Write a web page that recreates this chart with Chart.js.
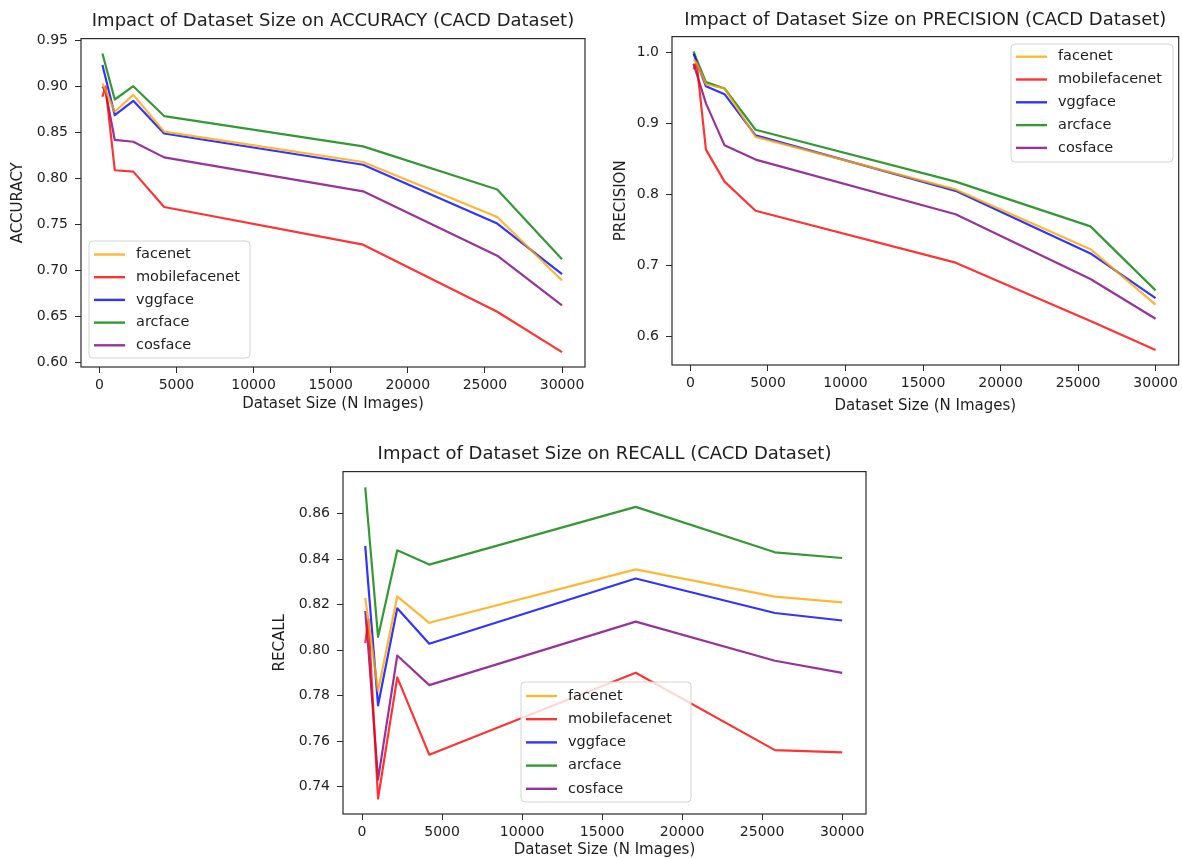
<!DOCTYPE html>
<html>
<head>
<meta charset="utf-8">
<script src="https://cdn.jsdelivr.net/npm/chart.js@4.4.1/dist/chart.umd.min.js"></script>
<style>
  body { margin: 0; background: #fff; width: 1182px; height: 859px; position: relative; overflow: hidden; }
  canvas { position: absolute; }
</style>
</head>
<body>
<canvas id="accuracy-chart" width="600" height="420" style="left:0;top:0"></canvas>
<canvas id="precision-chart" width="592" height="420" style="left:590px;top:0"></canvas>
<canvas id="recall-chart" width="620" height="419" style="left:270px;top:440px"></canvas>
<script>
/* values */
let sizes = [200, 400, 1000, 2200, 4200, 17100, 25800, 30000]
let models = ['facenet', 'mobilefacenet', 'vggface', 'arcface', 'cosface']
let modelColors = ['rgba(255,165,0,0.8)', 'rgba(255,0,0,0.8)', 'rgba(0,0,255,0.8)', 'rgba(0,128,0,0.8)', 'rgba(128,0,128,0.8)']

let accuracyFacenet = [0.9035, 0.896, 0.8727, 0.891, 0.851, 0.818, 0.758, 0.689]
let accuracyMobilefacenet = [0.889, 0.900, 0.809, 0.8075, 0.769, 0.728, 0.655, 0.611]
let accuracyVggface = [0.9235, 0.910, 0.869, 0.8846, 0.849, 0.815, 0.751, 0.696]
let accuracyArcface = [0.936, 0.9235, 0.886, 0.9005, 0.868, 0.835, 0.788, 0.712]
let accuracyCosface = [0.900, 0.895, 0.842, 0.840, 0.823, 0.786, 0.716, 0.662]

let precisionFacenet = [0.990, 0.985, 0.955, 0.949, 0.881, 0.807, 0.723, 0.645]
let precisionMobilefacenet = [0.976, 0.985, 0.863, 0.818, 0.777, 0.704, 0.622, 0.581]
let precisionVggface = [0.998, 0.986, 0.952, 0.941, 0.883, 0.805, 0.717, 0.654]
let precisionArcface = [1.001, 0.990, 0.958, 0.949, 0.891, 0.818, 0.755, 0.665]
let precisionCosface = [0.984, 0.970, 0.928, 0.869, 0.849, 0.772, 0.681, 0.625]

let recallFacenet = [0.823, 0.813, 0.782, 0.8236, 0.812, 0.8355, 0.8235, 0.821]
let recallMobilefacenet = [0.803, 0.8135, 0.7347, 0.788, 0.754, 0.790, 0.756, 0.755]
let recallVggface = [0.8458, 0.828, 0.7757, 0.8184, 0.8028, 0.8315, 0.8163, 0.813]
let recallArcface = [0.8716, 0.855, 0.8058, 0.8439, 0.8376, 0.863, 0.843, 0.8405]
let recallCosface = [0.8172, 0.800, 0.7431, 0.7976, 0.7846, 0.8125, 0.7953, 0.790]

let sizeTicks = [0, 5000, 10000, 15000, 20000, 25000, 30000]
let accuracyTicks = [0.60, 0.65, 0.70, 0.75, 0.80, 0.85, 0.90, 0.95]
let precisionTicks = [0.6, 0.7, 0.8, 0.9, 1.0]
let recallTicks = [0.74, 0.76, 0.78, 0.80, 0.82, 0.84, 0.86]

let fontFamily = '"DejaVu Sans", Verdana, sans-serif'
let textColor = '#1e1e1e'
let axisColor = '#2a2a2a'

// matplotlib style box round the plot area
let framePlugin = {
  id: 'frame',
  afterDatasetsDraw(chart) {
    let a = chart.chartArea
    let ctx = chart.ctx
    ctx.save()
    ctx.strokeStyle = axisColor
    ctx.lineWidth = 1.2
    ctx.strokeRect(a.left, a.top, a.right - a.left, a.bottom - a.top)
    ctx.restore()
  }
}

// legend drawn inside the axes, like loc='best'
let boxLegend = {
  id: 'boxLegend',
  afterDraw(chart, args, opts) {
    if (!opts || opts.left === undefined) return
    let ctx = chart.ctx
    ctx.save()
    ctx.beginPath()
    ctx.roundRect(opts.left, opts.top, opts.width, opts.height, 4)
    ctx.fillStyle = 'rgba(255,255,255,0.8)'
    ctx.fill()
    ctx.strokeStyle = '#d4d4d4'
    ctx.lineWidth = 1
    ctx.stroke()
    ctx.font = '14.5px ' + fontFamily
    ctx.textBaseline = 'middle'
    chart.data.datasets.forEach(function(ds, i) {
      let y = opts.top + opts.first + i * opts.step
      ctx.strokeStyle = ds.borderColor
      ctx.lineWidth = 2.4
      ctx.beginPath()
      ctx.moveTo(opts.left + 5, y)
      ctx.lineTo(opts.left + 36, y)
      ctx.stroke()
      ctx.fillStyle = textColor
      ctx.fillText(ds.label, opts.left + 47, y)
    })
    ctx.restore()
  }
}

Chart.register(framePlugin, boxLegend)

function makeChart(canvasId, s) {
  let canvas = document.getElementById(canvasId)
  let ctx = canvas.getContext('2d')
  let w = canvas.width
  let h = canvas.height

  return new Chart(ctx, {
    type: 'line',
    data: {
      datasets: models.map(function(name, i) {
        return {
          label: name,
          data: sizes.map(function(x, j) { return {x: x, y: s.values[i][j]} }),
          borderColor: modelColors[i],
          backgroundColor: modelColors[i],
          borderWidth: 2.2,
          borderJoinStyle: 'round',
          pointRadius: 0,
          tension: 0,
          fill: false
        }
      })
    },
    options: {
      responsive: false,
      animation: false,
      devicePixelRatio: 1,
      layout: { padding: { left: 0, top: 0, bottom: 0, right: w - s.area.right } },
      plugins: {
        legend: { display: false },
        tooltip: { enabled: false },
        title: {
          display: true,
          text: s.title,
          fullSize: false,
          color: textColor,
          font: { family: fontFamily, size: 18, weight: 'normal' },
          padding: { top: s.titlePad[0], bottom: s.titlePad[1] }
        },
        boxLegend: s.legendBox
      },
      scales: {
        x: {
          type: 'linear',
          min: -1190,
          max: 31490,
          afterBuildTicks: function(scale) { scale.ticks = sizeTicks.map(function(v) { return {value: v} }) },
          afterFit: function(scale) { scale.height = h - s.area.bottom },
          ticks: {
            callback: function(v) { return String(v) },
            font: { family: fontFamily, size: 14 },
            color: textColor,
            padding: 4,
            autoSkip: false,
            maxRotation: 0
          },
          grid: { drawOnChartArea: false, drawTicks: true, tickLength: 6, color: axisColor },
          border: { display: false },
          title: {
            display: true,
            text: 'Dataset Size (N Images)',
            color: textColor,
            font: { family: fontFamily, size: 15 },
            padding: { top: 0, bottom: s.xTitlePad }
          }
        },
        y: {
          min: s.yMin,
          max: s.yMax,
          afterBuildTicks: function(scale) { scale.ticks = s.yTicks.map(function(v) { return {value: v} }) },
          afterFit: function(scale) { scale.width = s.area.left },
          ticks: {
            callback: function(v) { return v.toFixed(s.yDigits) },
            font: { family: fontFamily, size: 14 },
            color: textColor,
            padding: 7,
            autoSkip: false
          },
          grid: { drawOnChartArea: false, drawTicks: true, tickLength: 6, color: axisColor },
          border: { display: false },
          title: {
            display: true,
            text: s.yTitle,
            color: textColor,
            font: { family: fontFamily, size: 15 },
            padding: { top: s.yTitlePad, bottom: 0 }
          }
        }
      }
    }
  })
}

let accuracyChart = makeChart('accuracy-chart', {
  title: 'Impact of Dataset Size on ACCURACY (CACD Dataset)',
  yTitle: 'ACCURACY',
  values: [accuracyFacenet, accuracyMobilefacenet, accuracyVggface, accuracyArcface, accuracyCosface],
  yTicks: accuracyTicks, yDigits: 2, yMin: 0.5948, yMax: 0.9523,
  area: { left: 81, right: 585, bottom: 367 },
  titlePad: [11, 6],
  yTitlePad: 9,
  xTitlePad: 7,
  legendBox: { left: 89, top: 241, width: 161, height: 117, first: 13.5, step: 22.7 }
})

let precisionChart = makeChart('precision-chart', {
  title: 'Impact of Dataset Size on PRECISION (CACD Dataset)',
  yTitle: 'PRECISION',
  values: [precisionFacenet, precisionMobilefacenet, precisionVggface, precisionArcface, precisionCosface],
  yTicks: precisionTicks, yDigits: 1, yMin: 0.560, yMax: 1.022,
  area: { left: 82, right: 590, bottom: 365 },
  titlePad: [10, 5],
  yTitlePad: 22,
  xTitlePad: 5,
  legendBox: { left: 421, top: 44, width: 162, height: 118, first: 12.7, step: 22.8 }
})

let recallChart = makeChart('recall-chart', {
  title: 'Impact of Dataset Size on RECALL (CACD Dataset)',
  yTitle: 'RECALL',
  values: [recallFacenet, recallMobilefacenet, recallVggface, recallArcface, recallCosface],
  yTicks: recallTicks, yDigits: 2, yMin: 0.7279, yMax: 0.8785,
  area: { left: 73, right: 596, bottom: 374 },
  titlePad: [4, 6],
  yTitlePad: 1,
  xTitlePad: 0,
  legendBox: { left: 251, top: 242, width: 170, height: 120, first: 14, step: 23.2 }
})
</script>
</body>
</html>
